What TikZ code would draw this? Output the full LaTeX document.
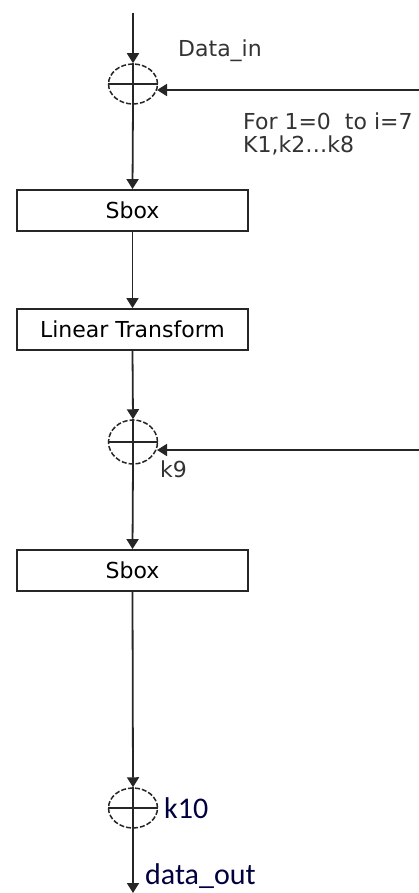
\documentclass[tikz,border=0pt]{standalone}
\usepackage{fontspec}
\setmainfont{DejaVu Sans}
\newfontfamily\calib{Carlito}
\usetikzlibrary{arrows.meta,shapes.geometric}
\begin{document}
\begin{tikzpicture}[x=1pt,y=-1pt,
  wire/.style={line width=1.8pt,draw=black!85},
  arr/.style={wire,-{Triangle[width=12pt,length=10pt]}},
  xorop/.style={ellipse,draw=black!85,line width=1.5pt,dash pattern=on 5pt off 2pt,minimum width=49pt,minimum height=40pt,inner sep=0pt},
  blk/.style={rectangle,draw=black!85,line width=1.8pt,minimum width=231pt,minimum height=41pt,inner sep=0pt,font=\fontsize{22}{26}\selectfont},
  lbl/.style={anchor=base west,inner sep=0pt,text=black!80,font=\fontsize{22}{26}\selectfont},
  big/.style={anchor=base west,inner sep=0pt,text=black!75!blue,font=\calib\fontsize{30}{34}\selectfont}]
\useasboundingbox (0,0) rectangle (419,893);
% nodes
\coordinate (top) at (133,13);
\node[xorop] (x1) at (133,84) {};
\node[blk] (s1) at (132.5,210.5) {Sbox};
\node[blk] (lt) at (132.5,329.5) {Linear Transform};
\node[xorop,minimum height=44pt] (x2) at (133,442) {};
\node[blk] (s2) at (132.5,570.5) {Sbox};
\node[xorop,minimum height=40pt] (x3) at (133,808) {};
\coordinate (bot) at (133,893);
\coordinate (k1in) at (419,90);
\coordinate (k1end) at (157,90);
\coordinate (k2in) at (419,450);
\coordinate (k2end) at (157,450);
% plus signs inside circles
\foreach \n in {x1,x2,x3}{
  \draw[wire,line width=1.5pt] (\n.west) -- (\n.east);
  \draw[wire,line width=1.5pt] (\n.north) -- (\n.south);
}
% connectors
\draw[arr] (top) -- (x1.north);
\draw[arr] (k1in) -- (k1end);
\draw[arr] (x1.south) -- (s1.north);
\draw[arr] (s1.south) -- (lt.north);
\draw[arr] (lt.south) -- (x2.north);
\draw[arr] (k2in) -- (k2end);
\draw[arr] (x2.south) -- (s2.north);
\draw[arr] (s2.south) -- (x3.north);
\draw[arr] (x3.south) -- (bot);
% labels
\node[lbl] (din) at (178,57) {Data\_in};
\node[lbl] (for) at (243,130) {\fontsize{22}{18}\selectfont\begin{tabular}[t]{@{}l@{}}For 1=0\ \ to i=7\\K1,k2\ldots k8\end{tabular}};
\node[lbl] (k9) at (160,477) {k9};
\node[big] (k10) at (164,818) {k10};
\node[big] (dout) at (145,884) {data\_out};
\end{tikzpicture}
\end{document}
